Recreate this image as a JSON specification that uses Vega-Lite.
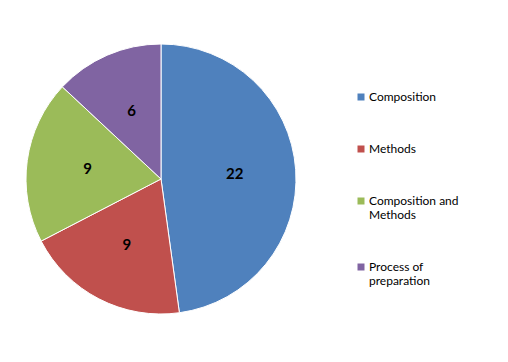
{
  "$schema": "https://vega.github.io/schema/vega-lite/v6.json",
  "width": 322,
  "height": 358,
  "padding": 0,
  "autosize": "pad",
  "background": "white",
  "config": {"view": {"stroke": null}},
  "data": {"values": [
    {"category": "Composition", "count": 22, "idx": 1},
    {"category": "Methods", "count": 9, "idx": 2},
    {"category": "Composition and Methods", "count": 9, "idx": 3},
    {"category": "Process of preparation", "count": 6, "idx": 4}
  ]},
  "encoding": {
    "theta": {"field": "count", "type": "quantitative", "stack": true},
    "order": {"field": "idx", "type": "quantitative"},
    "color": {
      "field": "category", "type": "nominal",
      "scale": {"domain": ["Composition", "Methods", "Composition and Methods", "Process of preparation"],
                "range": ["#4F81BD", "#C0504D", "#9BBB59", "#8064A2"]},
      "legend": {
        "title": null,
        "orient": "none",
        "legendX": 355,
        "legendY": 91,
        "symbolType": "square",
        "symbolSize": 49,
        "symbolStrokeWidth": 0,
        "labelFont": "Lato",
        "labelFontSize": 12,
        "labelColor": "#000000",
        "labelOffset": 2,
        "labelLineHeight": 15,
        "rowPadding": 40,
        "labelExpr": "datum.label == 'Composition and Methods' ? ['Composition and', 'Methods'] : datum.label == 'Process of preparation' ? ['Process of', 'preparation'] : datum.label"
      }
    }
  },
  "layer": [
    {"mark": {"type": "arc", "outerRadius": 135, "stroke": "white", "strokeWidth": 1}},
    {"mark": {"type": "text", "radius": 74, "font": "Lato", "fontWeight": "bold", "fontSize": 15, "fill": "black"},
     "encoding": {"text": {"field": "count", "type": "quantitative"}}}
  ]
}
